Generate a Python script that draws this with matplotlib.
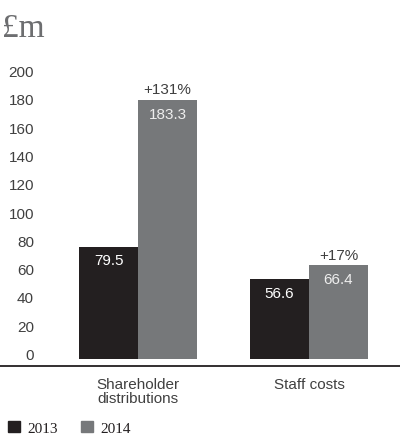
import matplotlib
matplotlib.use("Agg")
import matplotlib.pyplot as plt
import numpy as np

categories = ["Shareholder\ndistributions", "Staff costs"]
years = ["2013", "2014"]
values_2013 = [79.5, 56.6]
values_2014 = [183.3, 66.4]
changes = ["+131%", "+17%"]
yticks = [0, 20, 40, 60, 80, 100, 120, 140, 160, 180, 200]

dark = "#231f20"
grey = "#76787a"
text_col = "#404040"
sans = "Liberation Sans"
serif = "Liberation Serif"

W, H = 400, 435
fig = plt.figure(figsize=(W / 100, H / 100), dpi=100)
ax = fig.add_axes([0, (H - 366.7) / H, 1, (366.7 - 60) / H])

x = np.arange(len(categories))
width = 0.345
b1 = ax.bar(x - width / 2, values_2013, width, color=dark, label=years[0])
b2 = ax.bar(x + width / 2, values_2014, width, color=grey, label=years[1])

ax.set_xlim(-0.807, 1.532)
ax.set_ylim(-4.7, 212)

for spine in ["top", "right", "left"]:
    ax.spines[spine].set_visible(False)
ax.spines["bottom"].set_color(dark)
ax.spines["bottom"].set_linewidth(1.3)
ax.set_yticks([])
ax.set_xticks(x)
ax.set_xticklabels(categories, fontfamily=sans, fontsize=11, color=text_col,
                   linespacing=1.0)
ax.tick_params(axis="x", length=0, pad=8)

# y labels sit inside the axes, right-aligned near the left edge
for t in yticks:
    ax.text(34 / W, t, str(t), transform=ax.get_yaxis_transform(),
            ha="right", va="baseline", fontfamily=sans, fontsize=11,
            color=text_col)

# values inside the bars, change above the 2014 bar
for bars, col in [(b1, "white"), (b2, "#eeeeee")]:
    for rect in bars:
        h = rect.get_height()
        ax.annotate(f"{h:.1f}", (rect.get_x() + rect.get_width() / 2, h),
                    xytext=(0, -5), textcoords="offset points",
                    ha="center", va="top", fontfamily=sans, fontsize=11,
                    color=col)
for rect, c in zip(b2, changes):
    ax.annotate(c, (rect.get_x() + rect.get_width() / 2, rect.get_height()),
                xytext=(0, 2.5), textcoords="offset points",
                ha="center", va="bottom", fontfamily=sans, fontsize=11,
                color=text_col)

fig.text(2 / W, 1 - 37 / H, "£m", fontfamily=serif, fontsize=24,
         color="#6d6e70", ha="left", va="baseline")

# legend along the bottom
for i, (yr, col) in enumerate(zip(years, [dark, grey])):
    x0 = 8 + i * 73
    fig.patches.append(plt.Rectangle((x0 / W, 1 - 433 / H), 11.5 / W, 11 / H,
                                     transform=fig.transFigure, color=col))
    fig.text((x0 + 19) / W, 1 - 433 / H, yr, fontfamily=serif, fontsize=11,
             color=dark, ha="left", va="baseline")

fig.savefig("out.png", dpi=100)
